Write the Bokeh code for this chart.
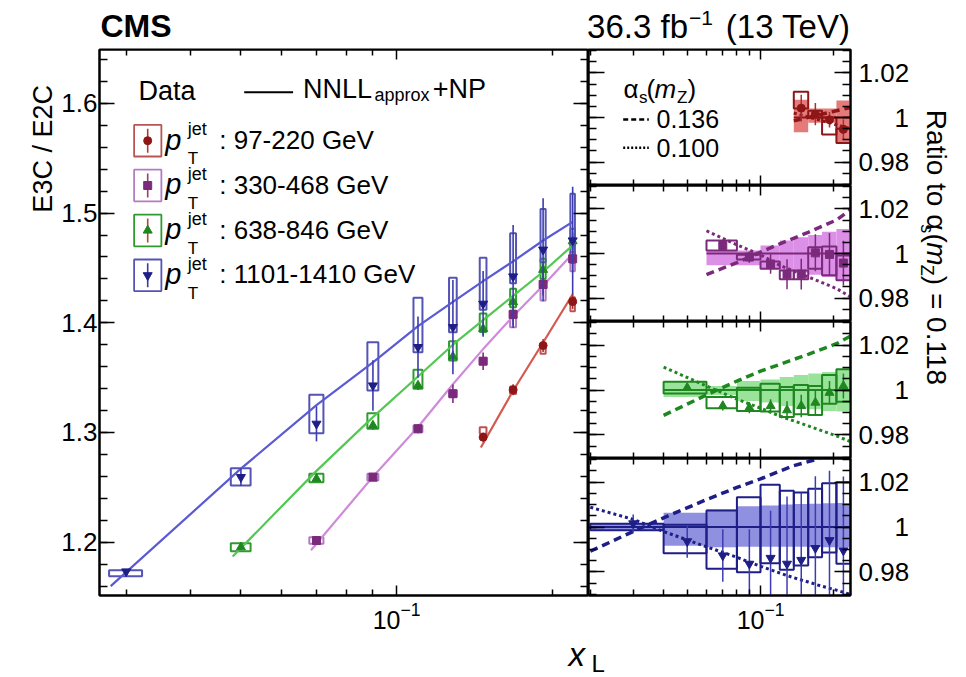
import math
from bokeh.plotting import figure
from bokeh.layouts import column, row
from bokeh.models import Range1d, FixedTicker, LogAxis, LinearAxis, LogTickFormatter
from bokeh.core.properties import value
from bokeh.embed import file_html
from bokeh.resources import INLINE

FONT = "Liberation Sans"

# ---------------- data ----------------
XC = [0.03, 0.05, 0.07, 0.09, 0.11, 0.1285, 0.147, 0.168, 0.192, 0.219]
EDGES = [0.02, 0.04, 0.06, 0.08, 0.10, 0.12, 0.137, 0.157, 0.179, 0.205, 0.234]

LEG_LABELS = [": 97-220 GeV", ": 330-468 GeV", ": 638-846 GeV", ": 1101-1410 GeV"]

# main panel: E3C/E2C
RED_Y = [1.2957, 1.3389, 1.3793, 1.4194]
RED_ERR = [0.004, 0.005, 0.006, 0.007]
RED_SYS_LO = [1.2988, 1.3350, 1.3717, 1.4106]
RED_SYS_HI = [1.3048, 1.3420, 1.3809, 1.4233]
RED_TH_X = [0.1455, 0.147, 0.168, 0.192, 0.219]
RED_TH_Y = [1.2863, 1.290, 1.338, 1.382, 1.426]

MAG_Y = [1.2015, 1.2593, 1.3034, 1.3353, 1.3650, 1.4076, 1.4349, 1.4583]
MAG_ERR = [0.002, 0.003, 0.004, 0.0085, 0.008, 0.010, 0.010, 0.012]
MAG_SYS_LO = [1.1985, 1.2562, 1.3003, 1.3325, 1.3620, 1.3960, 1.4203, 1.4470]
MAG_SYS_HI = [1.2046, 1.2623, 1.3064, 1.3385, 1.3680, 1.4112, 1.4392, 1.4644]
MAG_TH_X = [0.0683, 0.07, 0.09, 0.11, 0.1285, 0.147, 0.168, 0.192, 0.219]
MAG_TH_Y = [1.1926, 1.1986, 1.2597, 1.305, 1.344, 1.376, 1.406, 1.434, 1.463]

GREEN_Y = [1.1954, 1.2578, 1.3064, 1.3428, 1.3692, 1.3945, 1.4188, 1.4483, 1.4744]
GREEN_ERR = [0.002, 0.003, 0.004, 0.004, 0.005, 0.006, 0.006, 0.007, 0.008]
GREEN_SYS_LO = [1.1918, 1.2547, 1.3034, 1.3398, 1.3656, 1.3915, 1.4142, 1.4401, 1.4705]
GREEN_SYS_HI = [1.1991, 1.2623, 1.3176, 1.3572, 1.3832, 1.4085, 1.4310, 1.4583, 1.4857]
GREEN_TH_X = [0.0482, 0.05, 0.07, 0.09, 0.11, 0.1285, 0.147, 0.168, 0.192, 0.219]
GREEN_TH_Y = [1.187, 1.1946, 1.265, 1.314, 1.351, 1.380, 1.4025, 1.4245, 1.4465, 1.4705]

BLUE_Y = [1.1733, 1.2593, 1.3079, 1.3428, 1.3778, 1.3960, 1.4173, 1.4422, 1.4666, 1.4750]
BLUE_ERR = [0.002, 0.008, 0.016, 0.023, 0.028, 0.043, 0.030, 0.047, 0.047, 0.049]
BLUE_SYS_LO = [1.1690, 1.2517, 1.2994, 1.3383, 1.3732, 1.3914, 1.4118, 1.4360, 1.4552, 1.4547]
BLUE_SYS_HI = [1.1745, 1.2675, 1.3344, 1.3823, 1.4228, 1.4410, 1.4593, 1.4817, 1.5036, 1.5176]
BLUE_TH_X = [0.028, 0.05, 0.07, 0.09, 0.11, 0.1285, 0.147, 0.168, 0.192, 0.219]
BLUE_TH_Y = [1.160, 1.267, 1.325, 1.364, 1.397, 1.419, 1.438, 1.456, 1.475, 1.492]

# ratio panels: data / theory(alpha_s = 0.118)
RED_R = [1.0042, 1.0015, 0.9990, 0.9947]
RED_R_ERR = [0.006, 0.005, 0.0035, 0.0045]
RED_R_SYS_LO = [1.0040, 1.0000, 0.9924, 0.9886]
RED_R_SYS_HI = [1.0116, 1.0030, 1.0000, 0.9950]
RED_BAND_LO = [0.9934, 0.9977, 0.9977, 0.9886]
RED_BAND_HI = [1.0080, 1.0040, 1.0040, 1.0076]
RED_AS_X = [0.137, 0.234]
RED_AS_HI = [0.9985, 1.0045]
RED_AS_LO = [1.0020, 0.9950]

MAG_R = [1.0036, 0.9984, 0.9953, 0.9907, 0.9907, 1.0003, 0.9996, 0.9957]
MAG_R_ERR = [0.002, 0.0025, 0.0044, 0.0067, 0.0069, 0.0083, 0.0096, 0.010]
MAG_R_SYS_LO = [1.0013, 0.9973, 0.9932, 0.9884, 0.9884, 0.9932, 0.9902, 0.9880]
MAG_R_SYS_HI = [1.0058, 0.9994, 0.9964, 0.9924, 0.9924, 1.0028, 1.0031, 0.9991]
MAG_BAND_LO = [0.9947, 0.9947, 0.9932, 0.9924, 0.9914, 0.9905, 0.9895, 0.9880]
MAG_BAND_HI = [1.0013, 1.0013, 1.0036, 1.0058, 1.0073, 1.0083, 1.0098, 1.0110]
MAG_AS_X = [0.06, 0.08, 0.10, 0.12, 0.157, 0.205, 0.234]
MAG_AS_HI = [0.9905, 0.9959, 1.0006, 1.0043, 1.0095, 1.0150, 1.0196]
MAG_AS_LO = [1.0102, 1.0039, 0.9994, 0.9947, 0.9895, 0.9843, 0.9806]

GREEN_R = [1.0010, 0.9929, 0.9921, 0.9929, 0.9910, 0.9929, 0.9944, 0.9988, 1.0018]
GREEN_R_ERR = [0.0015, 0.002, 0.0025, 0.003, 0.004, 0.005, 0.0056, 0.0052, 0.0056]
GREEN_R_SYS_LO = [0.9984, 0.9919, 0.9907, 0.9904, 0.9880, 0.9892, 0.9889, 0.9939, 0.9948]
GREEN_R_SYS_HI = [1.0037, 0.9969, 1.0010, 1.0028, 1.0013, 1.0022, 1.0018, 1.0067, 1.0092]
GREEN_BAND_LO = [0.9969, 0.9978, 0.9951, 0.9944, 0.9929, 0.9919, 0.9914, 0.9907, 0.9904]
GREEN_BAND_HI = [1.0037, 1.0018, 1.0040, 1.0047, 1.0058, 1.0067, 1.0073, 1.0080, 1.0094]
GREEN_AS_X = [0.04, 0.06, 0.08, 0.10, 0.12, 0.157, 0.205, 0.234]
GREEN_AS_HI = [0.9887, 0.9978, 1.0040, 1.0084, 1.0114, 1.0159, 1.0206, 1.0240]
GREEN_AS_LO = [1.0102, 1.0018, 0.9959, 0.9919, 0.9884, 0.9840, 0.9796, 0.9770]

BLUE_R = [1.0016, 0.9936, 0.9873, 0.9836, 0.9862, 0.9836, 0.9853, 0.9906, 0.9941, 0.9895]
BLUE_R_ERR = [0.004, 0.0073, 0.0117, 0.0154, 0.021, 0.030, 0.030, 0.032, 0.031, 0.033]
BLUE_R_SYS_LO = [0.9985, 0.9883, 0.9814, 0.9799, 0.9839, 0.9810, 0.9829, 0.9865, 0.9887, 0.9836]
BLUE_R_SYS_HI = [1.0015, 1.0010, 1.0073, 1.0132, 1.0188, 1.0161, 1.0154, 1.0170, 1.0195, 1.0199]
BLUE_BAND_LO = [0.9985, 0.9916, 0.9910, 0.9912, 0.9912, 0.9912, 0.9912, 0.9911, 0.9910, 0.9909]
BLUE_BAND_HI = [1.0015, 1.0063, 1.0078, 1.0092, 1.0096, 1.0100, 1.0102, 1.0104, 1.0106, 1.0107]
BLUE_AS_HI_X = [0.02, 0.03, 0.04, 0.06, 0.08, 0.10, 0.12, 0.137, 0.168, 0.205, 0.234]
BLUE_AS_HI = [0.9892, 0.9980, 1.0041, 1.0122, 1.0176, 1.0214, 1.0249, 1.0273, 1.0300, 1.0340, 1.0370]
BLUE_AS_LO_X = [0.02, 0.03, 0.04, 0.06, 0.08, 0.10, 0.12, 0.137, 0.157, 0.179, 0.205, 0.234]
BLUE_AS_LO = [1.0088, 1.0034, 0.9980, 0.9912, 0.9865, 0.9825, 0.9795, 0.9774, 0.9755, 0.9736, 0.9719, 0.9700]

MAIN_X_TICKS = [0.1]
MAIN_X_MINOR = [0.03, 0.04, 0.05, 0.06, 0.07, 0.08, 0.09, 0.2]
RATIO_X_MINOR = [0.02, 0.03, 0.04, 0.05, 0.06, 0.07, 0.08, 0.09, 0.2]
MAIN_Y_TICKS = [1.2, 1.3, 1.4, 1.5, 1.6]
MAIN_Y_MINOR = [round(1.16 + 0.02 * i, 2) for i in range(25)]
RATIO_Y_TICKS = [0.98, 1.0, 1.02]
RATIO_Y_MINOR = [round(0.97 + 0.005 * i, 3) for i in range(13)]

MXMIN, MXMAX = 0.02664, 0.2350
MYMIN, MYMAX = 1.1514, 1.6491
RXMIN, RXMAX = 0.01966, 0.2342
RYMIN, RYMAX = 0.9695, 1.0305

RED = dict(dark="#8E1616", line="#D45A50", band="#E57A7A", mbox="#BA5454", err="#A83030", leg="#B03A3A")
MAG = dict(dark="#7B2A7B", line="#D08ADC", band="#DC8FE6", mbox="#B27CC2", err="#7B2A7B", leg="#A03A70")
GRN = dict(dark="#1F871F", line="#52C852", band="#9AE39A", mbox="#2F9B2F", err="#1F871F", leg="#B04A30")
BLU = dict(dark="#1E1E87", line="#5A5AD4", band="#9090E0", mbox="#5454B4", err="#3C3CB0", leg="#3A3AA8")

SERIES = [
    dict(start=6, col=RED, marker="circle", msize=8, y=RED_Y, err=RED_ERR, slo=RED_SYS_LO, shi=RED_SYS_HI,
         thx=RED_TH_X, thy=RED_TH_Y, r=RED_R, rerr=RED_R_ERR, rslo=RED_R_SYS_LO, rshi=RED_R_SYS_HI,
         blo=RED_BAND_LO, bhi=RED_BAND_HI, hx=RED_AS_X, hy=RED_AS_HI, lx=RED_AS_X, ly=RED_AS_LO),
    dict(start=2, col=MAG, marker="square", msize=8, y=MAG_Y, err=MAG_ERR, slo=MAG_SYS_LO, shi=MAG_SYS_HI,
         thx=MAG_TH_X, thy=MAG_TH_Y, r=MAG_R, rerr=MAG_R_ERR, rslo=MAG_R_SYS_LO, rshi=MAG_R_SYS_HI,
         blo=MAG_BAND_LO, bhi=MAG_BAND_HI, hx=MAG_AS_X, hy=MAG_AS_HI, lx=MAG_AS_X, ly=MAG_AS_LO),
    dict(start=1, col=GRN, marker="triangle", msize=9, y=GREEN_Y, err=GREEN_ERR, slo=GREEN_SYS_LO, shi=GREEN_SYS_HI,
         thx=GREEN_TH_X, thy=GREEN_TH_Y, r=GREEN_R, rerr=GREEN_R_ERR, rslo=GREEN_R_SYS_LO, rshi=GREEN_R_SYS_HI,
         blo=GREEN_BAND_LO, bhi=GREEN_BAND_HI, hx=GREEN_AS_X, hy=GREEN_AS_HI, lx=GREEN_AS_X, ly=GREEN_AS_LO),
    dict(start=0, col=BLU, marker="inverted_triangle", msize=9, y=BLUE_Y, err=BLUE_ERR, slo=BLUE_SYS_LO, shi=BLUE_SYS_HI,
         thx=BLUE_TH_X, thy=BLUE_TH_Y, r=BLUE_R, rerr=BLUE_R_ERR, rslo=BLUE_R_SYS_LO, rshi=BLUE_R_SYS_HI,
         blo=BLUE_BAND_LO, bhi=BLUE_BAND_HI, hx=BLUE_AS_HI_X, hy=BLUE_AS_HI, lx=BLUE_AS_LO_X, ly=BLUE_AS_LO),
]

# approximate Arial / Liberation Sans advance widths (1/1000 em)
CW = {' ': 278, '(': 333, ')': 333, '.': 278, '=': 584, '-': 333, '\u2212': 584, ':': 278, '/': 278,
      'R': 722, 'a': 556, 't': 278, 'i': 222, 'o': 556, 'm': 833, 'Z': 611, 's': 500, 'f': 278,
      'b': 556, 'T': 611, 'e': 556, 'V': 667, '\u03b1': 620}
MID = 0.345  # distance baseline -> middle of text box, in em


def tw(s, size):
    return sum(CW.get(c, 556) for c in s) / 1000.0 * size


def ident(v):
    return v


def txt(p, fx, fy, px, py, s, size, style="normal", align="left", angle=0.0, color="black"):
    """px, py: wanted baseline start in page-like pixels (y down)."""
    if angle == 0:
        cx, cy = px, py - MID * size
    elif angle > 0:
        cx, cy = px - MID * size, py
    else:
        cx, cy = px + MID * size, py
    p.text(x=[fx(cx)], y=[fy(cy)], text=[s], text_font=value(FONT), text_font_size=value(f"{size}px"),
           text_font_style=value(style), text_align=value(align), text_baseline=value("middle"),
           angle=angle, text_color=color)


def style_axis(ax, ticks, maj_in, min_in, labels, size="26px", standoff=4, fixed=None):
    ax.major_tick_in = maj_in
    ax.major_tick_out = 0
    ax.minor_tick_in = min_in
    ax.minor_tick_out = 0
    ax.axis_line_color = "black"
    ax.axis_line_width = 2
    ax.major_tick_line_color = "black"
    ax.major_tick_line_width = 1.5
    ax.minor_tick_line_color = "black"
    ax.minor_tick_line_width = 1.5
    ax.major_label_text_font = FONT
    ax.major_label_text_color = "black"
    ax.major_label_text_font_size = size
    ax.major_label_standoff = standoff
    ax.axis_label = None
    if not labels:
        ax.major_label_overrides = {t: "" for t in ticks}
        ax.fixed_location = fixed


def base_fig(width, height, xr, yr, **kw):
    p = figure(width=width, height=height, x_axis_type="log", x_range=xr, y_range=yr,
               output_backend="svg", toolbar_location=None, **kw)
    if p.title is not None:
        p.title.visible = False
    p.xgrid.visible = False
    p.ygrid.visible = False
    p.background_fill_color = "white"
    p.border_fill_color = "white"
    p.outline_line_color = "black"
    p.outline_line_width = 2
    return p


def strip(width, height):
    p = figure(width=width, height=height, x_range=Range1d(0, width), y_range=Range1d(height, 0),
               x_axis_location=None, y_axis_location=None, output_backend="svg",
               toolbar_location=None, min_border=0)
    if p.title is not None:
        p.title.visible = False
    p.xgrid.visible = False
    p.ygrid.visible = False
    p.outline_line_color = None
    p.background_fill_color = "white"
    p.border_fill_color = "white"
    return p


BOTTOM_BORDER = 40
MID_H = 2 + 546 + BOTTOM_BORDER

# ---------------- main panel ----------------
main = base_fig(530, MID_H, Range1d(MXMIN, MXMAX), Range1d(MYMIN, MYMAX),
                min_border_left=40, min_border_right=0, min_border_top=2, min_border_bottom=BOTTOM_BORDER)
xt_main = FixedTicker(ticks=MAIN_X_TICKS, minor_ticks=MAIN_X_MINOR)
yt_main = FixedTicker(ticks=MAIN_Y_TICKS, minor_ticks=MAIN_Y_MINOR)
ax = main.xaxis[0]
ax.ticker = xt_main
ax.formatter = LogTickFormatter()
style_axis(ax, MAIN_X_TICKS, 10, 6, True, "25px", 6)
ax_top = LogAxis(ticker=xt_main)
style_axis(ax_top, MAIN_X_TICKS, 10, 6, False, fixed=MYMAX)
main.add_layout(ax_top, "above")
ay = main.yaxis[0]
ay.ticker = yt_main
style_axis(ay, MAIN_Y_TICKS, 15, 8, True, "26px", 2)
ay_r = LinearAxis(ticker=yt_main)
style_axis(ay_r, MAIN_Y_TICKS, 15, 8, False, fixed=MXMAX)
main.add_layout(ay_r, "right")

BOX_HW = 0.0022
for s in SERIES:
    xs = XC[s["start"]:]
    main.quad(left=[x - BOX_HW for x in xs], right=[x + BOX_HW for x in xs],
              bottom=s["slo"], top=s["shi"], fill_color=None, line_color=s["col"]["mbox"], line_width=2)
for s in SERIES:
    main.line(s["thx"], s["thy"], line_color=s["col"]["line"], line_width=2.2)
for s in SERIES:
    xs = XC[s["start"]:]
    main.segment(x0=xs, y0=[y - e for y, e in zip(s["y"], s["err"])],
                 x1=xs, y1=[y + e for y, e in zip(s["y"], s["err"])],
                 line_color=s["col"]["err"], line_width=1.6)
    main.scatter(xs, s["y"], marker=s["marker"], size=s["msize"],
                 fill_color=s["col"]["dark"], line_color=s["col"]["dark"])


# main legend (positions in page pixels -> data)
def mx(px):
    return 10 ** (math.log10(MXMIN) + (px - 98) / 490.0 * math.log10(MXMAX / MXMIN))


def my(py):
    return MYMIN + (595 - py) / 546.0 * (MYMAX - MYMIN)


txt(main, mx, my, 137, 100, "Data", 27)
main.line([mx(243), mx(292)], [my(91.7), my(91.7)], line_color="black", line_width=2)
txt(main, mx, my, 302, 97.5, "NNLL", 27)
txt(main, mx, my, 373.5, 100.5, "approx", 18)
txt(main, mx, my, 432, 97.5, "+NP", 27)

LEG_CY = [140.2, 185.0, 230.0, 274.8]
for s, cy, lab in zip(SERIES, LEG_CY, LEG_LABELS):
    c = s["col"]
    main.quad(left=[mx(132.7)], right=[mx(160)], top=[my(cy - 15.8)], bottom=[my(cy + 15.8)],
              fill_color=None, line_color=c["mbox"], line_width=1.8)
    main.segment(x0=[mx(146.3)], y0=[my(cy - 12)], x1=[mx(146.3)], y1=[my(cy + 12)],
                 line_color=c["leg"], line_width=1.6)
    main.scatter([mx(146.3)], [my(cy)], marker=s["marker"], size=s["msize"],
                 fill_color=c["dark"], line_color=c["dark"])
    txt(main, mx, my, 164, cy + 9, "p", 29, "italic")
    txt(main, mx, my, 186.5, cy - 5, "jet", 18)
    txt(main, mx, my, 186.5, cy + 24, "T", 17)
    txt(main, mx, my, 218, cy + 8, lab, 26)

# ---------------- ratio panels ----------------
xt_ratio = FixedTicker(ticks=MAIN_X_TICKS, minor_ticks=RATIO_X_MINOR)
yt_ratio = FixedTicker(ticks=RATIO_Y_TICKS, minor_ticks=RATIO_Y_MINOR)


def ratio_fig(height, top, bottom, xlabels):
    p = base_fig(327, height, Range1d(RXMIN, RXMAX), Range1d(RYMIN, RYMAX),
                 min_border_left=0, min_border_right=65, min_border_top=top, min_border_bottom=bottom,
                 y_axis_location="right")
    bx = p.xaxis[0]
    bx.ticker = xt_ratio
    bx.formatter = LogTickFormatter()
    style_axis(bx, MAIN_X_TICKS, 10, 6, xlabels, "25px", 6, fixed=RYMIN)
    tx = LogAxis(ticker=xt_ratio)
    style_axis(tx, MAIN_X_TICKS, 10, 6, False, fixed=RYMAX)
    p.add_layout(tx, "above")
    ry = p.yaxis[0]
    ry.ticker = yt_ratio
    style_axis(ry, RATIO_Y_TICKS, 16, 8, True, "26px", 8)
    ry.major_label_overrides = {1.0: "\u00a0\u00a0\u00a0\u00a0\u00a01"}
    ly = LinearAxis(ticker=yt_ratio)
    style_axis(ly, RATIO_Y_TICKS, 16, 8, False, fixed=RXMIN)
    p.add_layout(ly, "left")
    return p


r1 = ratio_fig(138, 2, 0, False)
r2 = ratio_fig(136, 0, 0, False)
r3 = ratio_fig(137, 0, 0, False)
r4 = ratio_fig(137 + BOTTOM_BORDER, 0, BOTTOM_BORDER, True)

for p, s in zip([r1, r2, r3, r4], SERIES):
    c = s["col"]
    st = s["start"]
    xs = XC[st:]
    left = EDGES[st:-1]
    right = EDGES[st + 1:]
    p.quad(left=left, right=right, bottom=s["blo"], top=s["bhi"], fill_color=c["band"], line_color=None)
    p.line([EDGES[st], EDGES[-1]], [1.0, 1.0], line_color=c["dark"], line_width=2)
    p.line(s["hx"], s["hy"], line_color=c["dark"], line_width=3.5, line_dash="8 5")
    p.line(s["lx"], s["ly"], line_color=c["dark"], line_width=3, line_dash="3 3")
    p.quad(left=left, right=right, bottom=s["rslo"], top=s["rshi"], fill_color=None,
           line_color=c["dark"], line_width=2)
    p.segment(x0=xs, y0=[v - e for v, e in zip(s["r"], s["rerr"])],
              x1=xs, y1=[v + e for v, e in zip(s["r"], s["rerr"])],
              line_color=c["err"], line_width=1.5)
    p.scatter(xs, s["r"], marker=s["marker"], size=s["msize"], fill_color=c["dark"], line_color=c["dark"])


def rx(px):
    return 10 ** (math.log10(RXMIN) + (px - 588) / 262.0 * math.log10(RXMAX / RXMIN))


def r1y(py):
    return RYMIN + (185 - py) / 136.0 * (RYMAX - RYMIN)


txt(r1, rx, r1y, 623, 97, "\u03b1", 26)
txt(r1, rx, r1y, 638.5, 103, "s", 17)
txt(r1, rx, r1y, 646, 97, "(", 26)
txt(r1, rx, r1y, 654, 97, "m", 26, "italic")
txt(r1, rx, r1y, 676.5, 103, "Z", 17)
txt(r1, rx, r1y, 687, 97, ")", 26)
r1.line([rx(622.7), rx(648.3)], [r1y(119), r1y(119)], line_color="black", line_width=2.5, line_dash="5 3")
txt(r1, rx, r1y, 656, 127.3, "0.136", 25)
r1.line([rx(622.7), rx(648.3)], [r1y(147.3), r1y(147.3)], line_color="black", line_width=2.5, line_dash="2 2")
txt(r1, rx, r1y, 656, 156, "0.100", 25)

# ---------------- text strips ----------------
top = strip(966, 47)
txt(top, ident, ident, 100, 37, "CMS", 32, "bold")
LUMI_A, LUMI_SUP, LUMI_B = "36.3 fb", "\u22121", "(13 TeV)"
xb = 850
txt(top, ident, ident, xb, 37, LUMI_B, 33, align="right")
xs_ = xb - tw(LUMI_B, 33) - tw(" ", 33)
txt(top, ident, ident, xs_, 25, LUMI_SUP, 21, align="right")
xa = xs_ - tw(LUMI_SUP, 21) - 1
txt(top, ident, ident, xa, 37, LUMI_A, 33, align="right")

left_strip = strip(58, MID_H)
txt(left_strip, ident, ident, 52, 154 - 47, "E3C / E2C", 27, align="center", angle=math.pi / 2)

right_strip = strip(51, MID_H)
pieces = [("Ratio to \u03b1", 28, "normal", 11, 1.5), ("s", 18, "normal", 5, 1.0), ("(", 28, "normal", 11, 0.0),
          ("m", 28, "italic", 11, 1.0), ("Z", 18, "normal", 5, 1.0), (") = 0.118", 28, "normal", 11, 0.0)]
ypos = 112 - 47
for s_, sz, sty, xb_, gap in pieces:
    txt(right_strip, ident, ident, xb_, ypos, s_, sz, sty, angle=-math.pi / 2)
    ypos += tw(s_, sz) + gap

BOT_H = 677 - 47 - MID_H
bottom = strip(966, BOT_H)
bot0 = 47 + MID_H
txt(bottom, ident, ident, 568, 665 - bot0, "x", 33, "italic")
txt(bottom, ident, ident, 591, 671 - bot0, "L", 24)

layout = column(top, row(left_strip, main, column(r1, r2, r3, r4), right_strip), bottom)

with open("out.html", "w") as f:
    f.write(file_html(layout, INLINE))
